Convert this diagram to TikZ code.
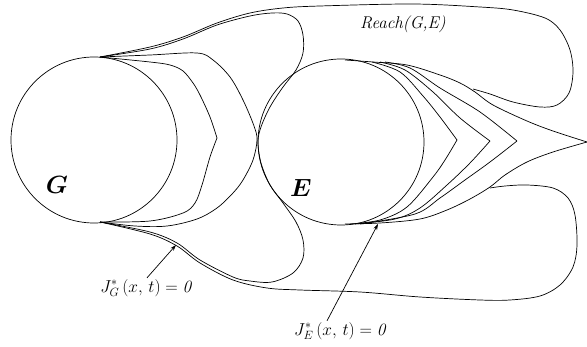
\documentclass[tikz,border=0pt]{standalone}
\usepackage{amsmath}
\usepackage{tikz}
\usetikzlibrary{arrows.meta,calc}

\begin{document}
\begin{tikzpicture}[x=1pt, y=-1pt, >={Stealth[length=6pt,width=4pt]},
    line width=0.7pt,
    every node/.style={inner sep=1pt},
    setlabel/.style={font=\fontsize{26}{28}\selectfont\boldmath},
    reachlabel/.style={font=\fontsize{17}{19}\selectfont},
    funclabel/.style={font=\fontsize{18}{20}\selectfont},
    curve/.style={smooth, tension=0.55}]
\useasboundingbox (0,0) rectangle (587,347);
% target sets
\draw (94,140) circle[radius=83];
\draw (341,142) circle[radius=83];
% level sets around G
\draw plot[curve] coordinates {(100,57) (150,62) (170,65) (183,71) (193,83) (200,95) (210,117) (217,138)};
\draw plot[curve] coordinates {(217,138) (210,157) (202,185) (195,203) (183,213) (150,221) (100,222)};
\draw plot[curve] coordinates {(100,57) (150,55) (197,53) (213,60) (230,77) (243,100) (254,126) (257,140)
    (253,160) (243,180) (233,193) (217,208) (197,219) (167,226) (135,226) (100,222)};
\draw plot[curve] coordinates {(100,57) (150,49) (183,39) (217,25) (250,16) (272,13) (287,14) (298,21)
    (303,35) (303,53) (296,70) (283,87) (270,107) (261,127) (258,142) (261,163) (270,185) (283,203)
    (296,222) (303,240) (303,258) (293,273) (272,282) (250,281) (233,277) (200,260) (177,243)
    (150,232) (100,222)};
% outer boundary
\draw plot[curve] coordinates {(100,57) (150,47) (183,37) (217,23) (250,13) (283,8) (320,6) (413,4)
    (480,7) (513,10) (545,18) (560,30) (570,50) (573,72) (569,93) (557,105) (540,107) (513,102)
    (490,94) (473,89)};
\draw plot[curve] coordinates {(490,188) (505,186) (527,185) (553,188) (568,198) (575,215) (577,245)
    (573,267) (560,285) (540,296) (510,300) (480,300) (420,297) (360,292) (300,290) (267,288)
    (233,280) (200,263) (177,246) (150,234) (100,222)};
% level sets around E
\draw plot[curve] coordinates {(372,62) (400,72) (423,96) (440,117) (457,140)};
\draw plot[curve] coordinates {(457,140) (445,160) (433,177) (407,207) (380,220) (350,224)};
\draw plot[curve] coordinates {(380,62) (405,70) (433,92) (460,118) (490,141)};
\draw plot[curve] coordinates {(490,141) (470,163) (447,185) (420,208) (395,219) (355,224)};
\draw plot[curve] coordinates {(385,62) (410,68) (440,88) (480,112) (517,141)};
\draw plot[curve] coordinates {(517,141) (490,162) (465,180) (440,198) (415,214) (360,224)};
\draw plot[curve] coordinates {(345,60) (373,62) (407,65) (440,75) (460,83) (475,92) (493,105)
    (527,121) (553,131) (587,142)};
\draw plot[curve] coordinates {(587,142) (553,152) (527,162) (505,175) (490,187) (470,199) (447,210)
    (420,219) (380,223) (345,224)};
% labels
\node[setlabel] (glabel) at (57,185) {$G$};
\node[setlabel] (elabel) at (301,188) {$E$};
\node[reachlabel] (reach) at (403,24) {\textit{Reach(G,E)}};
\node[funclabel] (jg) at (147,288) {$J_G^{*}\,(x,\,t) = \mathit{0}$};
\node[funclabel] (je) at (341,331) {$J_E^{*}\,(x,\,t) = \mathit{0}$};
\coordinate (gtip) at (176,245);
\coordinate (etip) at (378,224);
\draw[->] (jg.north) -- (gtip);
\draw[->] ([xshift=-14pt]je.north) -- (etip);
\end{tikzpicture}
\end{document}
